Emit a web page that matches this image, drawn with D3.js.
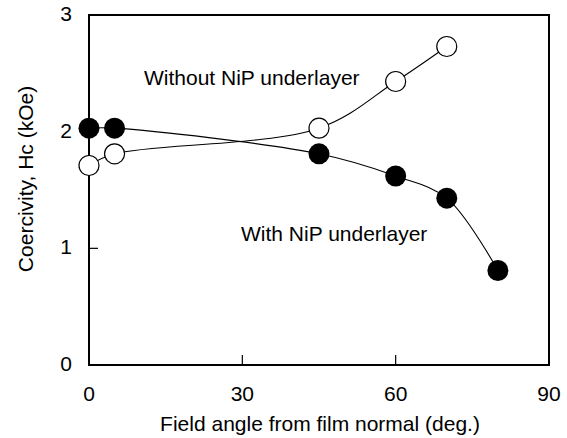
<!DOCTYPE html>
<html lang="en">
<head>
    <meta charset="UTF-8">
    <title>Coercivity vs field angle</title>
    <script src="https://cdn.jsdelivr.net/npm/d3@7"></script>
    <style>
        body { margin: 0; background: #fff; }
        text { font-family: "Liberation Sans", Arial, sans-serif; fill: #000; font-size: 21px; }
    </style>
</head>
<body>
<script>
    // field angle (deg.) and coercivity (kOe)
    var angleWith = [0, 5, 45, 60, 70, 80];
    var hcWith = [2.03, 2.03, 1.81, 1.62, 1.43, 0.81];
    var angleWithout = [0, 5, 45, 60, 70];
    var hcWithout = [1.71, 1.81, 2.03, 2.43, 2.73];
    var xTicks = [0, 30, 60, 90];
    var yTicks = [0, 1, 2, 3];

    var width = 567, height = 438;
    var m = {left: 89, right: 549, top: 15, bottom: 365};

    var svg = d3.select("body").append("svg")
        .attr("width", width)
        .attr("height", height);

    var x = d3.scaleLinear().domain([0, 90]).range([m.left, m.right]);
    var y = d3.scaleLinear().domain([0, 3]).range([m.bottom, m.top]);

    // inward ticks
    svg.selectAll(".xtick")
        .data(xTicks.slice(1, -1))
        .enter().append("line")
        .attr("x1", function (d) { return x(d); })
        .attr("x2", function (d) { return x(d); })
        .attr("y1", m.bottom)
        .attr("y2", m.bottom - 10)
        .attr("stroke", "#000")
        .attr("stroke-width", 1.2);

    svg.selectAll(".ytick")
        .data(yTicks.slice(1, -1))
        .enter().append("line")
        .attr("x1", m.left)
        .attr("x2", m.left + 9)
        .attr("y1", function (d) { return y(d); })
        .attr("y2", function (d) { return y(d); })
        .attr("stroke", "#000")
        .attr("stroke-width", 1.2);

    // frame
    svg.append("rect")
        .attr("x", m.left)
        .attr("y", m.top)
        .attr("width", m.right - m.left)
        .attr("height", m.bottom - m.top)
        .attr("fill", "none")
        .attr("stroke", "#000")
        .attr("stroke-width", 2);

    // tick labels
    svg.selectAll(".xlab")
        .data(xTicks)
        .enter().append("text")
        .attr("x", function (d) { return x(d); })
        .attr("y", 401)
        .attr("text-anchor", "middle")
        .text(function (d) { return d; });

    svg.selectAll(".ylab")
        .data(yTicks)
        .enter().append("text")
        .attr("x", 72)
        .attr("y", function (d) { return y(d) + 6; })
        .attr("text-anchor", "end")
        .text(function (d) { return d; });

    // axis titles
    svg.append("text")
        .attr("x", 320)
        .attr("y", 431)
        .attr("text-anchor", "middle")
        .text("Field angle from film normal (deg.)");

    svg.append("text")
        .attr("transform", "translate(33,179) rotate(-90)")
        .attr("text-anchor", "middle")
        .text("Coercivity, Hc (kOe)");

    // curves
    var line = d3.line()
        .x(function (d) { return x(d[0]); })
        .y(function (d) { return y(d[1]); })
        .curve(d3.curveCatmullRom);

    var withPts = d3.zip(angleWith, hcWith);
    var withoutPts = d3.zip(angleWithout, hcWithout);

    svg.append("path")
        .datum(withPts)
        .attr("d", line)
        .attr("fill", "none")
        .attr("stroke", "#000")
        .attr("stroke-width", 1.1);

    svg.append("path")
        .datum(withoutPts)
        .attr("d", line)
        .attr("fill", "none")
        .attr("stroke", "#000")
        .attr("stroke-width", 1.1);

    svg.selectAll(".open")
        .data(withoutPts)
        .enter().append("circle")
        .attr("cx", function (d) { return x(d[0]); })
        .attr("cy", function (d) { return y(d[1]); })
        .attr("r", 10)
        .attr("fill", "#fff")
        .attr("stroke", "#000")
        .attr("stroke-width", 1.2);

    svg.selectAll(".filled")
        .data(withPts)
        .enter().append("circle")
        .attr("cx", function (d) { return x(d[0]); })
        .attr("cy", function (d) { return y(d[1]); })
        .attr("r", 10.5)
        .attr("fill", "#000");

    // series labels
    svg.append("text")
        .attr("x", 144)
        .attr("y", 85)
        .text("Without NiP underlayer");

    svg.append("text")
        .attr("x", 241)
        .attr("y", 241)
        .text("With NiP underlayer");
</script>
</body>
</html>
